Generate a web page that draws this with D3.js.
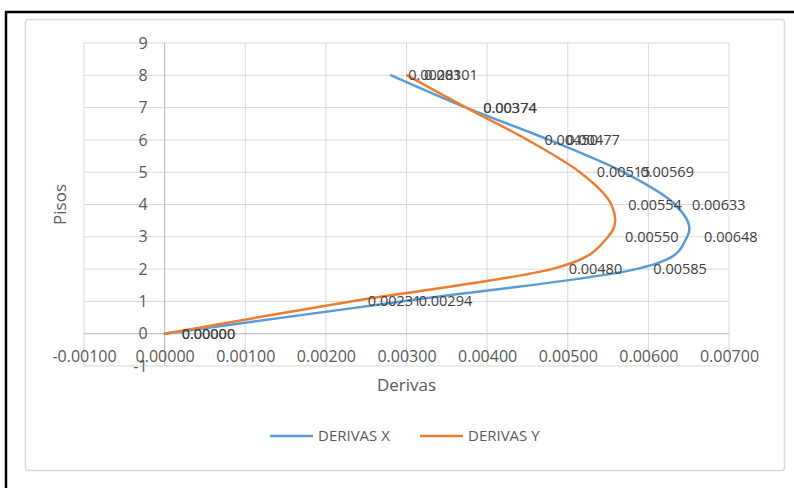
<!DOCTYPE html>
<html><head><meta charset="utf-8">
<script src="https://cdn.jsdelivr.net/npm/d3@7"></script>
<style>body{margin:0;background:#fff}svg{display:block}text{font-family:"Open Sans",sans-serif}</style>
</head><body>
<svg id="c" width="794" height="488"></svg>
<script>
const floors = [0, 1, 2, 3, 4, 5, 6, 7, 8];
const derivasX = [0, 0.00294, 0.00585, 0.00648, 0.00633, 0.00569, 0.00477, 0.00374, 0.00281];
const derivasY = [0, 0.00231, 0.00480, 0.00550, 0.00554, 0.00515, 0.00450, 0.00374, 0.00301];
const seriesNames = ["DERIVAS X", "DERIVAS Y"];
const xTicks = [-0.001, 0, 0.001, 0.002, 0.003, 0.004, 0.005, 0.006, 0.007];
const yTicks = [-1, 0, 1, 2, 3, 4, 5, 6, 7, 8, 9];
const colors = ["#5B9BD5", "#ED7D31"];

const loc = d3.formatLocale({decimal:".", thousands:",", grouping:[3], currency:["$",""], minus:"-"});
const fmt = loc.format(".5f");
const fmtInt = loc.format("d");

const svg = d3.select("#c");
// outer black frame
svg.append("line").attr("x1",5).attr("x2",794).attr("y1",12).attr("y2",12).attr("stroke","#000").attr("stroke-width",2.5);
svg.append("line").attr("x1",6).attr("x2",6).attr("y1",11).attr("y2",488).attr("stroke","#000").attr("stroke-width",2.5);
// chart area
svg.append("rect").attr("x",25.5).attr("y",19.5).attr("width",759).attr("height",451).attr("rx",3)
  .attr("fill","#fff").attr("stroke","#d9d9d9").attr("stroke-width",1.5);

const x = d3.scaleLinear().domain([-0.001, 0.007]).range([84, 729]);
const y = d3.scaleLinear().domain([-1, 9]).range([366, 43]);

const grid = svg.append("g").attr("stroke","#d9d9d9").attr("stroke-width",1);
grid.selectAll(".h").data(yTicks).join("line")
  .attr("x1",x(-0.001)).attr("x2",x(0.007)).attr("y1",d=>y(d)).attr("y2",d=>y(d));
grid.selectAll(".v").data(xTicks).join("line")
  .attr("y1",y(-1)).attr("y2",y(9)).attr("x1",d=>x(d)).attr("x2",d=>x(d));

// axis lines
svg.append("line").attr("x1",x(-0.001)).attr("x2",x(0.007)).attr("y1",y(0)).attr("y2",y(0)).attr("stroke","#bfbfbf");
svg.append("line").attr("x1",x(0)).attr("x2",x(0)).attr("y1",y(-1)).attr("y2",y(9)).attr("stroke","#bfbfbf");

const xAxis = svg.append("g").attr("transform",`translate(0,${y(0)})`)
  .call(d3.axisBottom(x).tickValues(xTicks).tickFormat(fmt).tickSize(0).tickPadding(17));
const yAxis = svg.append("g").attr("transform",`translate(${x(0)},0)`)
  .call(d3.axisLeft(y).tickValues(yTicks).tickFormat(fmtInt).tickSize(0).tickPadding(17));
[xAxis,yAxis].forEach(a=>{
  a.select(".domain").remove();
  a.selectAll("text").attr("fill","#595959").style("font-size","16px").style("font-family","'Open Sans',sans-serif");
});

// series
const data = [derivasX, derivasY].map(vals => floors.map((f,i)=>({v:vals[i], f})));
const line = d3.line().x(d=>x(d.v)).y(d=>y(d.f)).curve(d3.curveCardinal.tension(0));
data.forEach((s,i)=>{
  svg.append("path").datum(s).attr("d",line).attr("fill","none")
    .attr("stroke",colors[i]).attr("stroke-width",2.5).attr("stroke-linejoin","round").attr("stroke-linecap","round");
});
data.forEach((s,i)=>{
  svg.append("g").selectAll("text").data(s).join("text")
    .attr("x",d=>x(d.v)+17).attr("y",d=>y(d.f)).attr("dy","0.35em")
    .attr("fill","#404040").style("font-size","14.5px")
    .text(d=>fmt(d.v));
});

// axis titles
svg.append("text").attr("transform",`translate(66,${(y(-1)+y(9))/2}) rotate(-90)`)
  .attr("text-anchor","middle").attr("fill","#595959").style("font-size","17px").text("Pisos");
svg.append("text").attr("x",(x(-0.001)+x(0.007))/2).attr("y",391)
  .attr("text-anchor","middle").attr("fill","#595959").style("font-size","17px").text("Derivas");

// legend
const legendX = [270, 420];
seriesNames.forEach((n,i)=>{
  svg.append("line").attr("x1",legendX[i]).attr("x2",legendX[i]+43).attr("y1",436).attr("y2",436)
    .attr("stroke",colors[i]).attr("stroke-width",2.5);
  svg.append("text").attr("x",legendX[i]+48).attr("y",436).attr("dy","0.35em")
    .attr("fill","#595959").style("font-size","15px").text(n);
});
</script>
</body></html>
